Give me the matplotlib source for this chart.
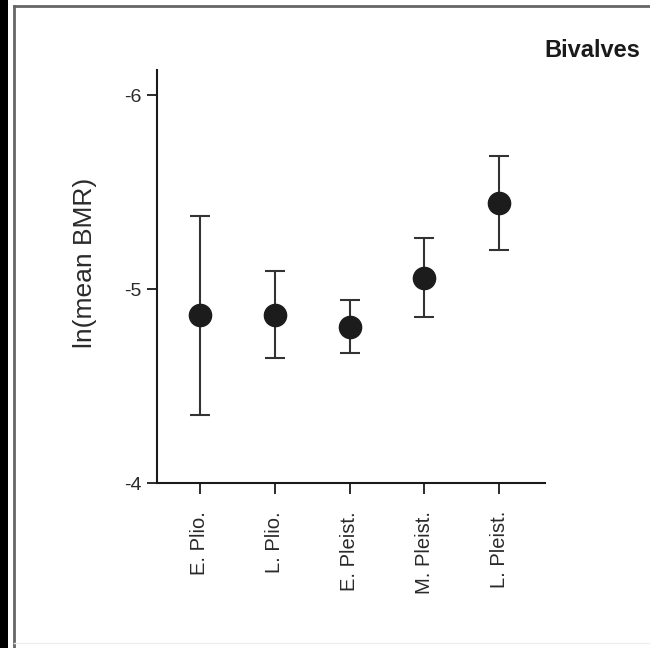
"""
Bivalves - ln(mean BMR) per interval waktu (Pliosen - Pleistosen)
Titik = rata-rata, garis = error bar.
"""

import matplotlib
matplotlib.use("Agg")  # backend non-interaktif
import matplotlib.pyplot as plt
from matplotlib.patches import Rectangle
from matplotlib.lines import Line2D


# ----------------------------------------------------------------------
# DATA
# ----------------------------------------------------------------------
intervals = ["E. Plio.", "L. Plio.", "E. Pleist.", "M. Pleist.", "L. Pleist."]
mean_bmr = [-4.867, -4.867, -4.804, -5.059, -5.445]
err_low = [0.510, 0.225, 0.139, 0.204, 0.243]    # ke arah -4
err_high = [0.515, 0.220, 0.132, 0.203, 0.241]   # ke arah -6

y_ticks = [-6, -5, -4]
panel_title = "Bivalves"

plt.rcParams["font.family"] = ["Liberation Sans", "DejaVu Sans"]

# ----------------------------------------------------------------------
# PLOT
# ----------------------------------------------------------------------
fig = plt.figure(figsize=(6.5, 6.48), dpi=100)
ax = fig.add_axes([0.2415, 0.2542, 0.597, 0.6378])

x = list(range(len(intervals)))
ax.errorbar(x, mean_bmr, yerr=[err_low, err_high], fmt="o",
            color="#1c1c1c", ecolor="#333333", elinewidth=1.5,
            capsize=7, capthick=1.5, markersize=16, zorder=3)

# sumbu y dibalik: -6 di atas, -4 di bawah
ax.set_ylim(-4, -6.129)
ax.set_xlim(-0.575, 4.615)
ax.set_yticks(y_ticks)
ax.set_yticklabels([str(t) for t in y_ticks])
ax.set_xticks(x)
ax.set_xticklabels(intervals, rotation=90, fontsize=14.5, color="#2a2a2a")

ax.spines["top"].set_visible(False)
ax.spines["right"].set_visible(False)
for side in ["left", "bottom"]:
    ax.spines[side].set_linewidth(1.5)
    ax.spines[side].set_color("#1a1a1a")

ax.tick_params(axis="y", direction="out", length=7, width=1.3,
               pad=4, labelsize=14, colors="#1a1a1a", labelcolor="#2a2a2a")
ax.tick_params(axis="x", direction="out", length=8, width=1.3,
               pad=12, colors="#1a1a1a", labelcolor="#2a2a2a")

ax.set_ylabel("ln(mean BMR)", fontsize=19, color="#2a2a2a")
ax.yaxis.set_label_coords(-0.155, 0.534)

fig.text(0.985, 1 - 57 / 648, panel_title, ha="right", va="baseline",
         fontsize=17, fontweight="bold", color="#1a1a1a")

# bingkai gambar: pita hitam kiri + garis abu-abu
fig.patches.append(Rectangle((0, 0), 8 / 650, 1, transform=fig.transFigure,
                             facecolor="black", edgecolor="none"))
fig.lines.append(Line2D([14 / 650, 14 / 650], [0, 1 - 6 / 648],
                        transform=fig.transFigure, color="#666666", lw=2))
fig.lines.append(Line2D([14 / 650, 1], [1 - 6 / 648, 1 - 6 / 648],
                        transform=fig.transFigure, color="#666666", lw=2))
fig.lines.append(Line2D([14 / 650, 1], [5 / 648, 5 / 648],
                        transform=fig.transFigure, color="#eeeeee", lw=1))

fig.savefig("out.png", dpi=100)
plt.close(fig)
